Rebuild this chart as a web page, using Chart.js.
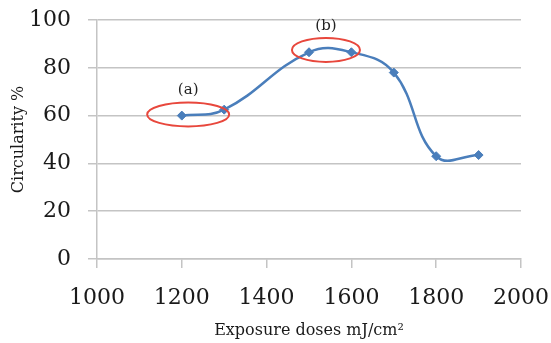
<!DOCTYPE html>
<html>
<head>
<meta charset="utf-8">
<script src="https://cdn.jsdelivr.net/npm/chart.js@4/dist/chart.umd.min.js"></script>
<style>
  html, body { margin: 0; padding: 0; background: #fff; }
  #wrap { width: 551px; height: 343px; position: relative; }
</style>
</head>
<body>
<div id="wrap"><canvas id="chart"></canvas></div>
<script>
  /* --- Data --- */
  var doses = [1200, 1300, 1500, 1600, 1700, 1800, 1900];
  var circularity = [60, 62.5, 86.5, 86.5, 78, 43, 43.5];
  var xTicks = [1000, 1200, 1400, 1600, 1800, 2000];
  var yTicks = [0, 20, 40, 60, 80, 100];

  // marked regions: centre in data units, label placed above
  var markNames = ['(a)', '(b)'];
  var markX = [1215, 1540];
  var markY = [60.5, 87.5];
  var markLabelY = [70.5, 97.5];

  var SERIF = '"DejaVu Serif", "Liberation Serif", serif';
  var BLUE = '#4a7ebb';
  var GRID = '#c4c4c4';

  var points = doses.map(function (d, i) { return { x: d, y: circularity[i] }; });

  /* --- Ellipses around marked regions --- */
  var markPlugin = {
    id: 'marks',
    afterDatasetsDraw: function (chart) {
      var ctx = chart.ctx;
      var xs = chart.scales.x, ys = chart.scales.y;
      ctx.save();
      for (var i = 0; i < markNames.length; i++) {
        var cx = xs.getPixelForValue(markX[i]);
        var cy = ys.getPixelForValue(markY[i]);
        var rx = i === 0 ? 41 : 34;
        ctx.beginPath();
        ctx.ellipse(cx, cy, rx, 12, 0, 0, Math.PI * 2);
        ctx.strokeStyle = '#e8473c';
        ctx.lineWidth = 2;
        ctx.stroke();

        ctx.fillStyle = '#222';
        ctx.font = '15px ' + SERIF;
        ctx.textAlign = 'center';
        ctx.textBaseline = 'middle';
        ctx.fillText(markNames[i], cx, ys.getPixelForValue(markLabelY[i]));
      }
      ctx.restore();
    }
  };

  new Chart(document.getElementById('chart').getContext('2d'), {
    type: 'line',
    data: {
      datasets: [{
        data: points,
        borderColor: BLUE,
        backgroundColor: BLUE,
        borderWidth: 2.5,
        tension: 0.42,
        pointStyle: 'rectRot',
        pointRadius: 4.5,
        pointBorderWidth: 1,
        pointBackgroundColor: BLUE,
        pointBorderColor: BLUE,
        fill: false
      }]
    },
    options: {
      responsive: true,
      maintainAspectRatio: false,
      animation: false,
      layout: { padding: { left: 0, top: 20, right: 30, bottom: 0 } },
      plugins: { legend: { display: false }, tooltip: { enabled: false } },
      scales: {
        x: {
          type: 'linear',
          min: 1000,
          max: 2000,
          afterBuildTicks: function (s) { s.ticks = xTicks.map(function (v) { return { value: v }; }); },
          afterFit: function (s) { s.height = 84; s.paddingLeft = 0; s.paddingRight = 0; },
          grid: { drawOnChartArea: false, drawTicks: true, tickLength: 9, color: GRID, lineWidth: 1.5 },
          border: { display: true, color: GRID, width: 1.5 },
          ticks: { color: '#1a1a1a', padding: 17, maxRotation: 0, font: { family: SERIF, size: 22 },
            callback: function (v) { return String(v); } },
          title: { display: true, text: 'Exposure doses mJ/cm\u00b2', color: '#1a1a1a', padding: { top: 0, bottom: 3 }, font: { family: SERIF, size: 16 } }
        },
        y: {
          min: 0,
          max: 100,
          afterBuildTicks: function (s) { s.ticks = yTicks.map(function (v) { return { value: v }; }); },
          afterFit: function (s) { s.width = 97; s.paddingTop = 0; s.paddingBottom = 0; },
          grid: { drawOnChartArea: true, drawTicks: true, tickLength: 9, color: GRID, lineWidth: 1.5 },
          border: { display: true, color: GRID, width: 1.5 },
          ticks: { color: '#1a1a1a', padding: 17, font: { family: SERIF, size: 22 },
            callback: function (v) { return String(v); } },
          title: { display: true, text: 'Circularity %', color: '#1a1a1a', padding: { top: 9, bottom: 4 }, font: { family: SERIF, size: 16 } }
        }
      }
    },
    plugins: [markPlugin]
  });
</script>
</body>
</html>
